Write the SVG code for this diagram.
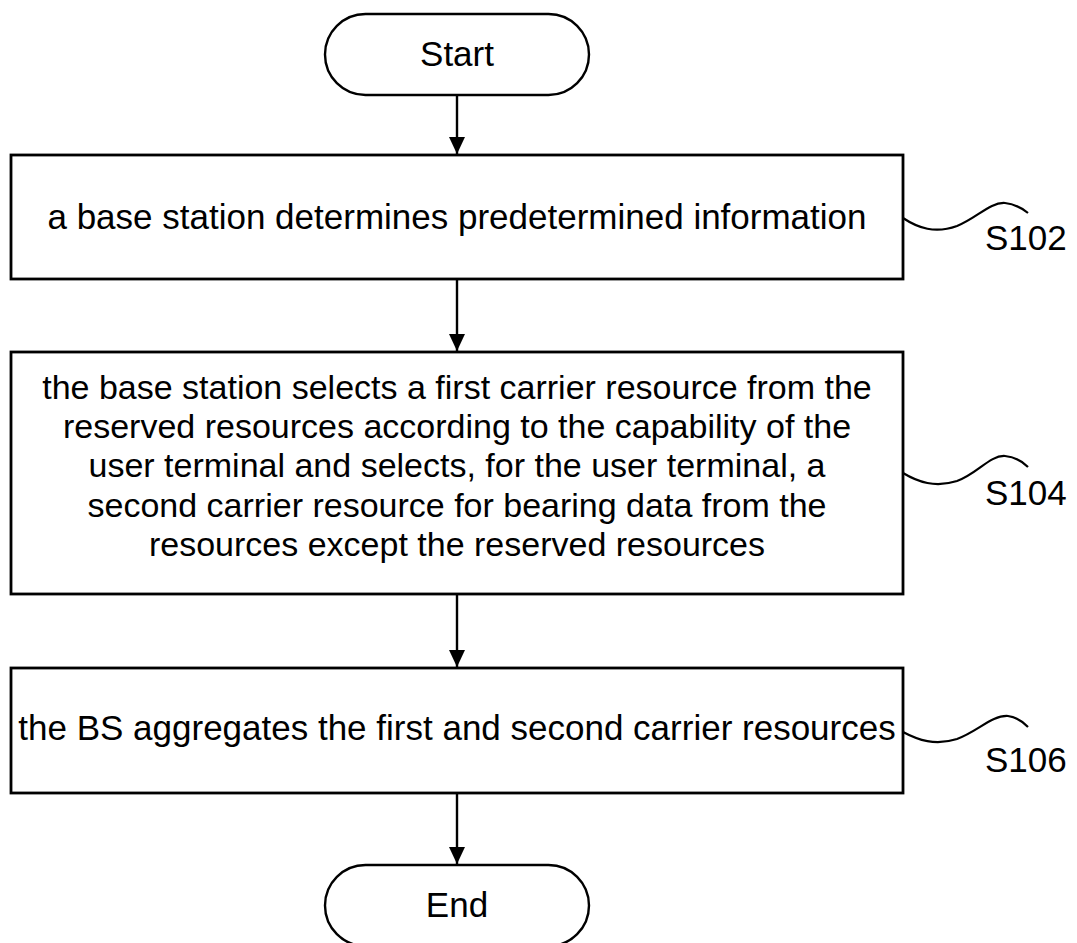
<svg xmlns="http://www.w3.org/2000/svg" width="1077" height="943" viewBox="0 0 1077 943">
<style>
.box{fill:#fff;stroke:#000;stroke-width:2.8}
.term{fill:#fff;stroke:#000;stroke-width:2.4}
.t{font-family:"Liberation Sans",Arial,sans-serif;font-size:35px;fill:#000;text-anchor:middle}
.t2{font-family:"Liberation Sans",Arial,sans-serif;font-size:34px;fill:#000;text-anchor:middle}
.lbl{font-family:"Liberation Sans",Arial,sans-serif;font-size:35px;fill:#000}
.edge{stroke:#000;stroke-width:2.4;fill:none}
.wave{stroke:#000;stroke-width:2.2;fill:none}
</style>
<defs>
<marker id="ah" markerUnits="userSpaceOnUse" markerWidth="17" markerHeight="17" refX="17" refY="8" orient="auto">
<path d="M0,0 L17,8 L0,16 Z" fill="#000"/>
</marker>
</defs>
<g id="connectors">
<line class="edge" x1="457" y1="95" x2="457" y2="154" marker-end="url(#ah)"/>
<line class="edge" x1="457" y1="279" x2="457" y2="351" marker-end="url(#ah)"/>
<line class="edge" x1="457" y1="594" x2="457" y2="667" marker-end="url(#ah)"/>
<line class="edge" x1="457" y1="793" x2="457" y2="864" marker-end="url(#ah)"/>
</g>
<g id="start">
<rect class="term" x="325" y="14" width="264" height="81" rx="40.5" ry="40.5"/>
<text class="t" x="457" y="66">Start</text>
</g>
<g id="s102">
<rect class="box" x="11" y="155" width="892" height="124"/>
<text class="t" x="457" y="229">a base station determines predetermined information</text>
<path class="wave" d="M903,218 C918,228 935,234 957,226 C977,218 990,202 1005,203 C1015,204 1023,209 1028,213"/>
<text class="lbl" x="985" y="250">S102</text>
</g>
<g id="s104">
<rect class="box" x="11" y="352" width="892" height="242"/>
<text class="t2" x="457" y="399"><tspan x="457">the base station selects a first carrier resource from the</tspan><tspan x="457" dy="39.2">reserved resources according to the capability of the</tspan><tspan x="457" dy="39.2">user terminal and selects, for the user terminal, a</tspan><tspan x="457" dy="39.2">second carrier resource for bearing data from the</tspan><tspan x="457" dy="39.2">resources except the reserved resources</tspan></text>
<path class="wave" d="M903,473 C918,482 935,488 957,481 C977,474 990,455 1005,456 C1015,457 1023,462 1028,467"/>
<text class="lbl" x="985" y="505">S104</text>
</g>
<g id="s106">
<rect class="box" x="11" y="668" width="892" height="125"/>
<text class="t" x="457" y="740">the BS aggregates the first and second carrier resources</text>
<path class="wave" d="M903,732 C918,740 935,746 957,739 C977,732 992,715 1008,716 C1017,717 1023,722 1028,727"/>
<text class="lbl" x="985" y="772">S106</text>
</g>
<g id="end">
<rect class="term" x="325" y="865" width="264" height="81" rx="40.5" ry="40.5"/>
<text class="t" x="457" y="917">End</text>
</g>
</svg>
